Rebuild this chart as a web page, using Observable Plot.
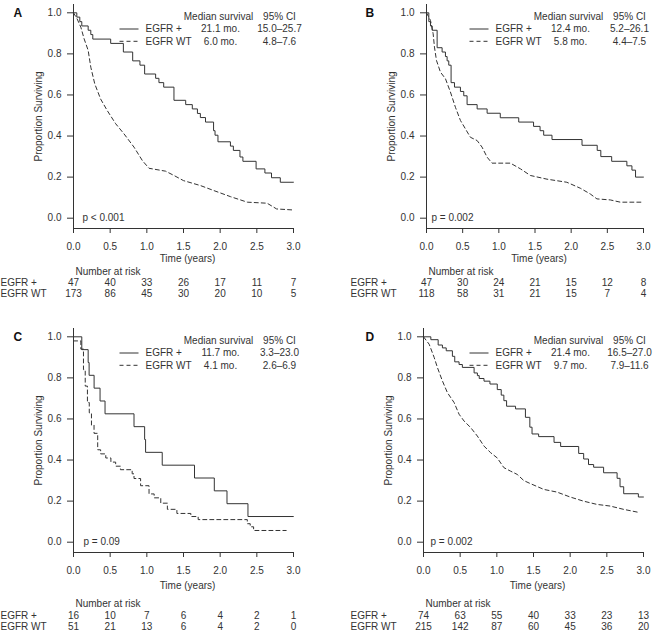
<!DOCTYPE html>
<html>
<head>
<meta charset="utf-8">
<script src="https://cdn.jsdelivr.net/npm/d3@7"></script>
<script src="https://cdn.jsdelivr.net/npm/@observablehq/plot@0.6"></script>
<style>
  html, body { margin: 0; padding: 0; background: #fff; }
  #chart { position: relative; width: 659px; height: 637px; overflow: hidden; background: #fff; }
  #chart > div { position: absolute; }
</style>
</head>
<body>
<div id="chart"></div>
<script>
// ---------- shared labels / ticks ----------
const xTicks = [0, 0.5, 1, 1.5, 2, 2.5, 3];
const yTicks = [0, 0.2, 0.4, 0.6, 0.8, 1];
const groupLabels = ["EGFR +", "EGFR WT"];
const legendHeader = ["Median survival", "95% CI"];
const xLabel = "Time (years)";
const yLabel = "Proportion Surviving";
const riskTitle = "Number at risk";

// ---------- Panel A ----------
const timeA_pos = [0, 0.045, 0.086, 0.113, 0.2, 0.236, 0.263, 0.507, 0.68, 0.807, 0.906, 0.97, 1.12, 1.165, 1.23, 1.37, 1.53, 1.62, 1.69, 1.73, 1.80, 1.91, 1.93, 1.97, 2.14, 2.18, 2.27, 2.31, 2.49, 2.61, 2.70, 2.82, 3.0];
const survA_pos = [1.0, 0.979, 0.957, 0.936, 0.915, 0.894, 0.872, 0.851, 0.809, 0.766, 0.745, 0.702, 0.681, 0.66, 0.638, 0.574, 0.553, 0.532, 0.51, 0.49, 0.468, 0.426, 0.404, 0.372, 0.351, 0.33, 0.298, 0.277, 0.24, 0.22, 0.197, 0.175, 0.175];
const timeA_wt = [0, 0.05, 0.1, 0.145, 0.2, 0.236, 0.29, 0.37, 0.46, 0.575, 0.69, 0.825, 0.94, 1.03, 1.255, 1.37, 1.5, 1.73, 1.91, 2.14, 2.37, 2.64, 2.77, 3.0];
const survA_wt = [1.0, 0.97, 0.93, 0.873, 0.817, 0.735, 0.654, 0.58, 0.524, 0.46, 0.41, 0.346, 0.28, 0.243, 0.229, 0.208, 0.183, 0.159, 0.135, 0.105, 0.078, 0.073, 0.045, 0.04];
const medianA = ["21.1 mo.", "6.0 mo."];
const ciA = ["15.0\u201325.7", "4.8\u20137.6"];
const pA = "p < 0.001";
const riskA_pos = [47, 40, 33, 26, 17, 11, 7];
const riskA_wt = [173, 86, 45, 30, 20, 10, 5];

// ---------- Panel B ----------
const timeB_pos = [0, 0.032, 0.055, 0.078, 0.147, 0.216, 0.262, 0.285, 0.308, 0.34, 0.387, 0.469, 0.515, 0.561, 0.70, 0.838, 1.02, 1.275, 1.48, 1.57, 1.62, 1.735, 2.15, 2.36, 2.41, 2.56, 2.77, 2.84, 2.89, 3.0];
const survB_pos = [1.0, 0.957, 0.936, 0.915, 0.83, 0.809, 0.787, 0.766, 0.745, 0.66, 0.638, 0.617, 0.596, 0.553, 0.532, 0.511, 0.489, 0.468, 0.447, 0.426, 0.404, 0.383, 0.355, 0.33, 0.30, 0.277, 0.255, 0.234, 0.20, 0.20];
const timeB_wt = [0, 0.055, 0.092, 0.11, 0.138, 0.193, 0.262, 0.331, 0.40, 0.469, 0.538, 0.607, 0.70, 0.768, 0.838, 0.906, 1.16, 1.30, 1.436, 1.666, 1.94, 2.126, 2.264, 2.356, 2.54, 2.68, 3.0];
const survB_wt = [1.0, 0.963, 0.898, 0.833, 0.768, 0.711, 0.679, 0.614, 0.54, 0.476, 0.435, 0.394, 0.378, 0.346, 0.297, 0.268, 0.268, 0.24, 0.208, 0.19, 0.175, 0.146, 0.118, 0.094, 0.089, 0.078, 0.078];
const medianB = ["12.4 mo.", "5.8 mo."];
const ciB = ["5.2\u201326.1", "4.4\u20137.5"];
const pB = "p = 0.002";
const riskB_pos = [47, 30, 24, 21, 15, 12, 8];
const riskB_wt = [118, 58, 31, 21, 15, 7, 4];

// ---------- Panel C ----------
const timeC_pos = [0, 0.113, 0.2, 0.213, 0.281, 0.362, 0.43, 0.825, 0.97, 0.983, 1.21, 1.65, 1.92, 2.093, 2.379, 3.0];
const survC_pos = [1.0, 0.9375, 0.875, 0.8125, 0.75, 0.6875, 0.625, 0.5625, 0.5, 0.4375, 0.375, 0.3125, 0.25, 0.1875, 0.125, 0.125];
const timeC_wt = [0, 0.1, 0.136, 0.16, 0.19, 0.215, 0.245, 0.28, 0.33, 0.37, 0.44, 0.51, 0.575, 0.64, 0.8, 0.825, 0.915, 1.03, 1.1, 1.19, 1.28, 1.41, 1.6, 1.7, 2.37, 2.41, 2.456, 2.9];
const survC_wt = [0.98, 0.94, 0.84, 0.76, 0.68, 0.63, 0.57, 0.53, 0.45, 0.43, 0.41, 0.39, 0.37, 0.353, 0.333, 0.31, 0.275, 0.235, 0.216, 0.19, 0.16, 0.14, 0.125, 0.11, 0.09, 0.075, 0.057, 0.057];
const medianC = ["11.7 mo.", "4.1 mo."];
const ciC = ["3.3\u201323.0", "2.6\u20136.9"];
const pC = "p = 0.09";
const riskC_pos = [16, 10, 7, 6, 4, 2, 1];
const riskC_wt = [51, 21, 13, 6, 4, 2, 0];

// ---------- Panel D ----------
const timeD_pos = [0, 0.1, 0.2, 0.258, 0.31, 0.394, 0.426, 0.485, 0.53, 0.69, 0.735, 0.76, 0.825, 0.906, 1.006, 1.06, 1.096, 1.133, 1.255, 1.39, 1.45, 1.48, 1.57, 1.78, 1.87, 2.116, 2.184, 2.25, 2.32, 2.456, 2.64, 2.68, 2.73, 2.93, 3.0];
const survD_pos = [1.0, 0.986, 0.96, 0.946, 0.932, 0.905, 0.878, 0.865, 0.851, 0.824, 0.811, 0.797, 0.784, 0.77, 0.743, 0.716, 0.689, 0.662, 0.649, 0.608, 0.56, 0.527, 0.514, 0.486, 0.466, 0.432, 0.405, 0.378, 0.365, 0.338, 0.311, 0.27, 0.236, 0.22, 0.22];
const timeD_wt = [0, 0.077, 0.145, 0.19, 0.258, 0.326, 0.417, 0.485, 0.553, 0.643, 0.734, 0.825, 0.915, 1.006, 1.096, 1.187, 1.278, 1.368, 1.459, 1.64, 1.82, 2.0, 2.18, 2.365, 2.546, 2.728, 2.95];
const survD_wt = [1.0, 0.964, 0.9, 0.85, 0.785, 0.728, 0.68, 0.623, 0.59, 0.558, 0.517, 0.468, 0.436, 0.41, 0.363, 0.346, 0.33, 0.3, 0.285, 0.257, 0.244, 0.22, 0.2, 0.184, 0.176, 0.16, 0.144];
const medianD = ["21.4 mo.", "9.7 mo."];
const ciD = ["16.5\u201327.0", "7.9\u201311.6"];
const pD = "p = 0.002";
const riskD_pos = [74, 63, 55, 40, 33, 23, 13];
const riskD_wt = [215, 142, 87, 60, 45, 36, 20];

// ---------- assemble panels ----------
const panels = [
  {letter: "A", tPos: timeA_pos, sPos: survA_pos, tWt: timeA_wt, sWt: survA_wt, wtCurve: "linear", median: medianA, ci: ciA, p: pA, riskPos: riskA_pos, riskWt: riskA_wt},
  {letter: "B", tPos: timeB_pos, sPos: survB_pos, tWt: timeB_wt, sWt: survB_wt, wtCurve: "linear", median: medianB, ci: ciB, p: pB, riskPos: riskB_pos, riskWt: riskB_wt},
  {letter: "C", tPos: timeC_pos, sPos: survC_pos, tWt: timeC_wt, sWt: survC_wt, wtCurve: "step-after", median: medianC, ci: ciC, p: pC, riskPos: riskC_pos, riskWt: riskC_wt},
  {letter: "D", tPos: timeD_pos, sPos: survD_pos, tWt: timeD_wt, sWt: survD_wt, wtCurve: "linear", median: medianD, ci: ciD, p: pD, riskPos: riskD_pos, riskWt: riskD_wt}
];

// layout (positions / styling only)
const topTable = {time: 30, title: 43, pos: 54, wt: 65};
const botTable = {time: 33, title: 51, pos: 63, wt: 74};
const layout = [
  {left: 0,   top: 0,   width: 330, marginLeft: 73, marginRight: 37, letterDx: -60, pDx: 9,  indent: 0,  table: topTable},
  {left: 330, top: 0,   width: 329, marginLeft: 96, marginRight: 16, letterDx: -61, pDx: 5,  indent: 20, table: topTable},
  {left: 0,   top: 324, width: 330, marginLeft: 73, marginRight: 37, letterDx: -60, pDx: 10, indent: 0,  table: botTable},
  {left: 330, top: 324, width: 329, marginLeft: 93, marginRight: 16, letterDx: -58, pDx: 7,  indent: 20, table: botTable}
];

const ink = "#333";
const hline = {draw(ctx) { ctx.moveTo(-9.5, 0); ctx.lineTo(9.5, 0); }};

function makePanel(d, L) {
  const pos = d.tPos.map((t, i) => ({t, s: d.sPos[i]}));
  const wt = d.tWt.map((t, i) => ({t, s: d.sWt[i]}));
  const legY = [12.3, 24.5, 36.8];
  const T = L.table;
  const legendMarks = [
    Plot.text([legendHeader[0]], {frameAnchor: "top-right", dx: -75, dy: legY[0], textAnchor: "middle", lineAnchor: "middle"}),
    Plot.text([legendHeader[1]], {frameAnchor: "top-right", dx: -14, dy: legY[0], textAnchor: "middle", lineAnchor: "middle"})
  ];
  [0, 1].forEach(k => {
    legendMarks.push(
      Plot.dot([k], {frameAnchor: "top-right", dx: -164.5, dy: legY[k + 1], symbol: hline, fill: "none", stroke: ink, strokeWidth: 1, strokeDasharray: k ? "4,3" : null}),
      Plot.text([groupLabels[k]], {frameAnchor: "top-right", dx: -148, dy: legY[k + 1], textAnchor: "start", lineAnchor: "middle"}),
      Plot.text([d.median[k]], {frameAnchor: "top-right", dx: -73, dy: legY[k + 1], textAnchor: "middle", lineAnchor: "middle"}),
      Plot.text([d.ci[k]], {frameAnchor: "top-right", dx: -14, dy: legY[k + 1], textAnchor: "middle", lineAnchor: "middle"})
    );
  });
  const riskRows = [d.riskPos, d.riskWt];
  const riskMarks = [
    Plot.text([riskTitle], {frameAnchor: "bottom-left", dx: 2, dy: T.title, textAnchor: "start", lineAnchor: "middle"})
  ];
  riskRows.forEach((row, k) => {
    const dy = k ? T.wt : T.pos;
    riskMarks.push(
      Plot.text([groupLabels[k]], {frameAnchor: "bottom-left", dx: -L.marginLeft + L.indent, dy, textAnchor: "start", lineAnchor: "middle"}),
      Plot.text(row, {x: (v, i) => xTicks[i], text: v => String(v), frameAnchor: "bottom", dy, textAnchor: "middle", lineAnchor: "middle"})
    );
  });

  return Plot.plot({
    width: L.width,
    height: 312,
    marginTop: 4,
    marginBottom: 84,
    marginLeft: L.marginLeft,
    marginRight: L.marginRight,
    style: {fontFamily: "'Liberation Sans', Arial, Helvetica, sans-serif", fontSize: "10px", color: ink, background: "#fff", overflow: "visible"},
    x: {domain: [0, 3]},
    y: {domain: [0, 1], insetTop: 8.3, insetBottom: 10.3},
    marks: [
      Plot.frame({anchor: "left", stroke: ink}),
      Plot.frame({anchor: "bottom", stroke: ink}),
      Plot.axisX({ticks: xTicks, tickFormat: d3.format(".1f"), tickSize: 5, tickPadding: 9, label: null, stroke: ink}),
      Plot.axisY({ticks: yTicks, tickFormat: d3.format(".1f"), tickSize: 6, tickPadding: 6, label: null, stroke: ink}),
      Plot.text([xLabel], {frameAnchor: "bottom", dx: 4, dy: T.time, textAnchor: "middle", lineAnchor: "middle"}),
      Plot.text([yLabel], {frameAnchor: "left", dx: -35, rotate: -90, textAnchor: "middle", lineAnchor: "middle"}),
      Plot.text([d.letter], {frameAnchor: "top-left", dx: L.letterDx, dy: 8.3, textAnchor: "start", lineAnchor: "middle", fontWeight: "bold", fontSize: 12, fill: "#111"}),
      Plot.line(wt, {x: "t", y: "s", curve: d.wtCurve, stroke: ink, strokeWidth: 1, strokeDasharray: "4,3"}),
      Plot.line(pos, {x: "t", y: "s", curve: "step-after", stroke: ink, strokeWidth: 1}),
      Plot.text([d.p], {frameAnchor: "bottom-left", dx: L.pDx, dy: -10.3, textAnchor: "start", lineAnchor: "middle"}),
      ...legendMarks,
      ...riskMarks
    ]
  });
}

const chart = document.getElementById("chart");
panels.forEach((d, i) => {
  const L = layout[i];
  const wrap = document.createElement("div");
  wrap.style.left = L.left + "px";
  wrap.style.top = L.top + "px";
  wrap.appendChild(makePanel(d, L));
  chart.appendChild(wrap);
});
</script>
</body>
</html>
